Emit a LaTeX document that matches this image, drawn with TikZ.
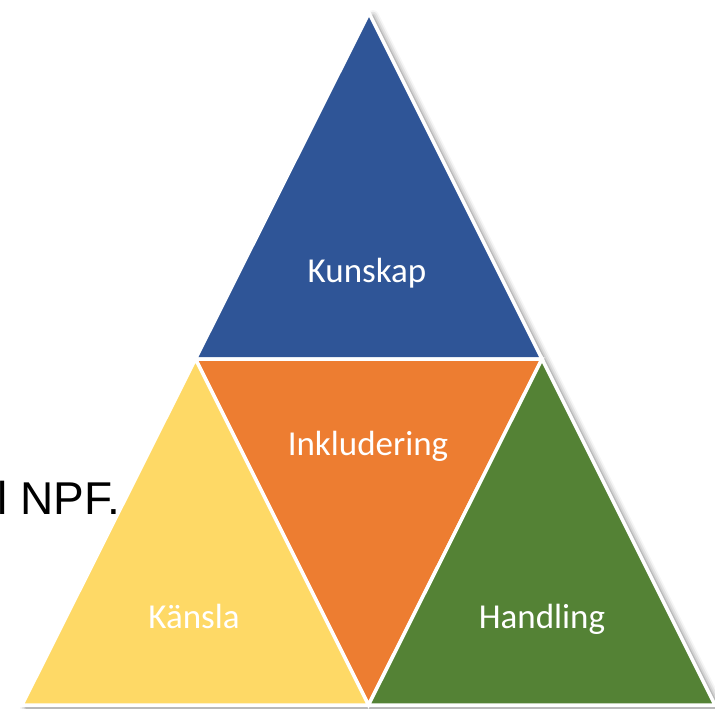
\documentclass[tikz,border=0pt]{standalone}
\usepackage{fontspec}
\setmainfont{Liberation Sans}
\newfontfamily\calib{Carlito}
\usetikzlibrary{shadows.blur}
\definecolor{kblue}{HTML}{2F5597}
\definecolor{korange}{HTML}{ED7D31}
\definecolor{kyellow}{HTML}{FED966}
\definecolor{kgreen}{HTML}{548235}
\begin{document}
\begin{tikzpicture}[x=1pt,y=-1pt,
  tri/.style={draw=white,line width=3.5pt,line join=miter},
  lbl/.style={font=\calib\fontsize{35}{40}\selectfont,text=white,anchor=base,inner sep=0pt}]
\useasboundingbox (0,0) rectangle (715,709);
\coordinate (A) at (369,13);
\coordinate (L) at (22,705);
\coordinate (R) at (715,705);
\coordinate (ML) at ($(A)!0.5!(L)$);
\coordinate (MR) at ($(A)!0.5!(R)$);
\coordinate (MB) at ($(L)!0.5!(R)$);
\fill[white,blur shadow={shadow xshift=4pt,shadow yshift=-3pt,shadow blur radius=6pt,shadow opacity=55}] (A) -- (L) -- (R) -- cycle;
\filldraw[tri,fill=kblue] (A) -- (ML) -- (MR) -- cycle;
\filldraw[tri,fill=korange] (ML) -- (MR) -- (MB) -- cycle;
\filldraw[tri,fill=kyellow] (ML) -- (L) -- (MB) -- cycle;
\filldraw[tri,fill=kgreen] (MR) -- (MB) -- (R) -- cycle;
\node[anchor=base west,inner sep=0pt,font=\fontsize{46}{52}\selectfont] (npf) at (-2.5,514) {l NPF.};
\node[lbl] (kunskap) at (367,282) {Kunskap};
\node[lbl] (inkl) at (368,455) {Inkludering};
\node[lbl] (kansla) at (194,628) {Känsla};
\node[lbl] (handling) at (542,628) {Handling};
\end{tikzpicture}
\end{document}
